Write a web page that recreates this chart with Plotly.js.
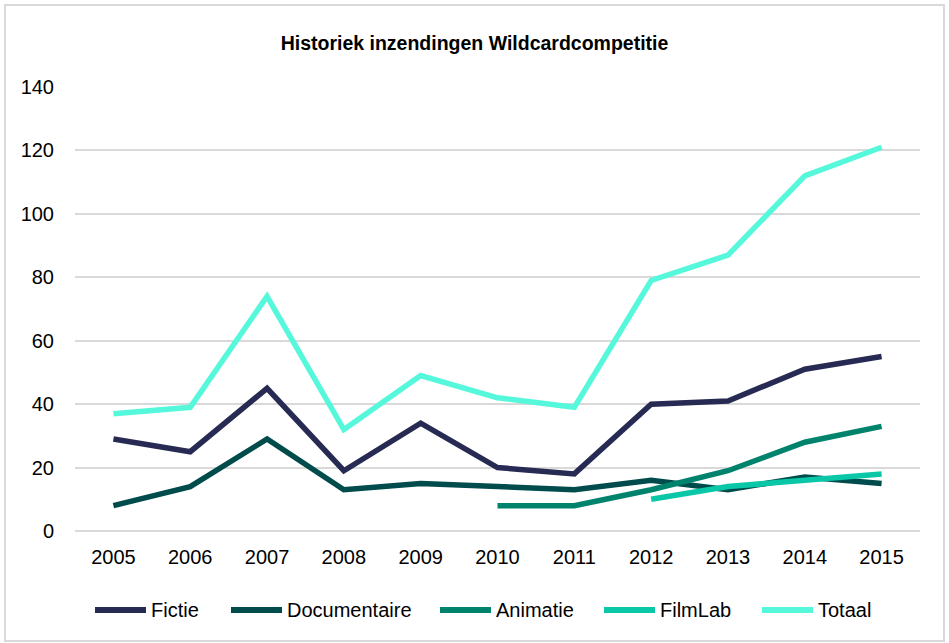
<!DOCTYPE html>
<html>
<head>
<meta charset="utf-8">
<script src="https://cdn.plot.ly/plotly-3.0.1.min.js"></script>
<style>
html,body{margin:0;padding:0;background:#fff;}
#frame{position:absolute;left:4px;top:4px;width:941px;height:638px;border:2px solid #d9d9d9;box-sizing:border-box;}
#chart{position:absolute;left:0;top:0;width:949px;height:643px;}
</style>
</head>
<body>
<div id="frame"></div>
<div id="chart"></div>
<script>
const years = ['2005','2006','2007','2008','2009','2010','2011','2012','2013','2014','2015'];
const fictie = [29,25,45,19,34,20,18,40,41,51,55];
const documentaire = [8,14,29,13,15,14,13,16,13,17,15];
const animatie = [null,null,null,null,null,8,8,13,19,28,33];
const filmlab = [null,null,null,null,null,null,null,10,14,16,18];
const totaal = [37,39,74,32,49,42,39,79,87,112,121];
const yTicks = [0,20,40,60,80,100,120,140];

const names = ['Fictie','Documentaire','Animatie','FilmLab','Totaal'];
const series = [fictie, documentaire, animatie, filmlab, totaal];
const colors = ['#272a52','#004b4b','#00836c','#0ac7a8','#56f8dc'];

const traces = series.map((s,i)=>({
  x: years, y: s, name: names[i], type:'scatter', mode:'lines',
  line:{color:colors[i], width:5.5, shape:'linear'},
  connectgaps:false, showlegend:false
}));

// custom legend (pixel positions converted to paper coords)
const W=949, H=643, ML=75, MR=29, MT=87, MB=112;
const pw=W-ML-MR, ph=H-MT-MB;
const px2x = p => (p-ML)/pw;
const py2y = p => (H-MB-p)/ph;
const legStarts = [92, 228, 437, 601, 759];
const legLineLen = 57, legY = 610;
const shapes = [], annotations = [];
names.forEach((n,i)=>{
  shapes.push({type:'line', xref:'paper', yref:'paper',
    x0:px2x(legStarts[i]+3), x1:px2x(legStarts[i]+legLineLen-3), y0:py2y(legY), y1:py2y(legY),
    line:{color:colors[i], width:6}});
  annotations.push({xref:'paper', yref:'paper', x:px2x(legStarts[i]+legLineLen), y:py2y(legY),
    xanchor:'left', yanchor:'middle', showarrow:false, text:n,
    font:{family:'Liberation Sans, Arial, sans-serif', size:20, color:'#000'}});
});

const layout = {
  width:W, height:H,
  paper_bgcolor:'rgba(0,0,0,0)', plot_bgcolor:'rgba(0,0,0,0)',
  margin:{l:ML,r:MR,t:MT,b:MB},
  font:{family:'Liberation Sans, Arial, sans-serif', color:'#000', size:20},
  title:{text:'<b>Historiek inzendingen Wildcardcompetitie</b>', x:0.5, xanchor:'center', y:0.933, yanchor:'middle',
    font:{family:'Liberation Sans, Arial, sans-serif', size:19.5, color:'#000'}},
  xaxis:{type:'category', tickvals:years, ticktext:years, range:[-0.5,10.5], showgrid:false, zeroline:false,
    showline:false, ticks:'', tickfont:{size:20}, ticklabelstandoff:12, fixedrange:true},
  yaxis:{range:[0,140], tickvals:yTicks, showgrid:true, gridcolor:'#d9d9d9', gridwidth:2, zeroline:true,
    zerolinecolor:'#d9d9d9', zerolinewidth:2, ticks:'', tickfont:{size:20}, ticklabelstandoff:20, fixedrange:true},
  shapes:shapes, annotations:annotations,
  showlegend:false
};
Plotly.newPlot('chart', traces, layout, {displayModeBar:false, staticPlot:true});
</script>
</body>
</html>
